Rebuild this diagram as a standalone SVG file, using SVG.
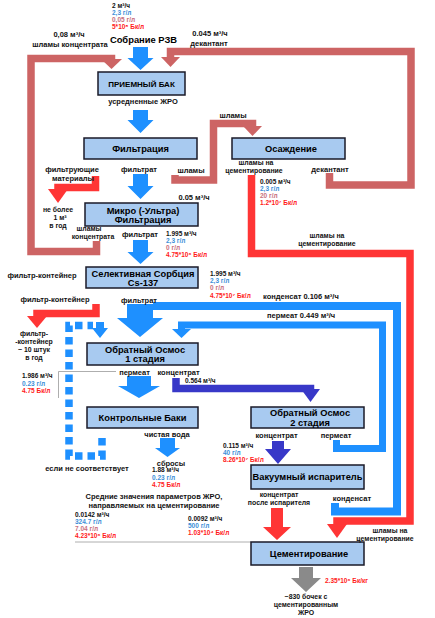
<svg xmlns="http://www.w3.org/2000/svg" width="435" height="618" viewBox="0 0 435 618">
<style>
text{font-family:"Liberation Sans",Arial,sans-serif;font-weight:bold}
.t{font-size:9.3px;text-anchor:middle;fill:#000}
.l{font-size:7.5px;text-anchor:middle;fill:#111}
.s{font-size:6.9px}
.n{font-size:6.5px}
.k{fill:#111}.b{fill:#3d8fd8}.m{fill:#c8707e}.r{fill:#ff1a1a}
.box{fill:#a8caf0;stroke:#1a1a28;stroke-width:1.5}
.lm{fill:none;stroke:#cd6464;stroke-width:7.5}
.lr{fill:none;stroke:#ff3535;stroke-width:7.5}
.lb{fill:none;stroke:#1e90ff;stroke-width:7.5}
.ld{fill:none;stroke:#3838c8;stroke-width:7.5}
.fm{fill:#cd6464}.fr{fill:#ff3535}.fb{fill:#1e90ff}.fd{fill:#3838c8}.fg{fill:#8a8a8a}
.thin{fill:none;stroke:#999;stroke-width:0.8}
</style>
<g id="connectors">
<path class="lm" d="M96.5 241 V251.5 H31 V58.5 H111.5 V60"/>
<polygon class="fm" points="101,59 122,59 111.5,69"/>
<path class="lm" d="M329.5 173 V185 H411 V51.5 H170.5 V58"/>
<polygon class="fm" points="161,57 180,57 170.5,67"/>
<path class="lm" d="M175 175 V180 H213.5 V123.5 H252.5 V127"/>
<polygon class="fm" points="243,126 262,126 252.5,136"/>
<path class="lr" d="M95.5 176 V187.5 H58 V190"/>
<polygon class="fr" points="48,189 68,189 58,203"/>
<path class="lr" d="M96 304 V313.5 H37 V317"/>
<polygon class="fr" points="27,316 47,316 37,328"/>
<path class="lr" d="M251.5 175 V253.5 H410 V521 H337 V525"/>
<polygon class="fr" points="327,524 347,524 337,538"/>
<polygon class="fr" points="271,508 283,508 283,527 291,527 277,540 263,527 271,527"/>
<polygon class="fb" points="133,47 148,47 148,58 153.5,58 140.5,70 127.5,58 133,58"/>
<polygon class="fb" points="133,110 148,110 148,120 153.5,120 140.5,133 127.5,120 133,120"/>
<polygon class="fb" points="133,174 148,174 148,186 153.5,186 140.5,199 127.5,186 133,186"/>
<polygon class="fb" points="133,240 148,240 148,252 153.5,252 140.5,264 127.5,252 133,252"/>
<path class="lb" d="M335 503 V511.5 H397 V306 H153" style="stroke-width:8"/>
<polygon class="fb" points="127,304 153,304 153,318 163,318 140,337 117,318 127,318"/>
<path class="lb" d="M336.5 440 V448.5 H382.5 V325 H181.5 V330" style="stroke-width:7"/>
<polygon class="fb" points="172,329 191,329 181.5,338"/>
<path class="lb" d="M102 438 V456 H69 V325.5 H93" style="stroke-dasharray:7.5 5"/>
<polygon class="fb" points="96,322 104,322 104,328 108,328 100,338 92,328 96,328"/>
<polygon class="fb" points="127,376 151,376 151,386 160,386 139,398 118,386 127,386"/>
<polygon class="fb" points="160,438 175,438 175,448 180,448 167.5,457 155,448 160,448"/>
<path class="ld" d="M176 378 V388.5 H310.5 V390"/>
<polygon class="fd" points="301,389 320,389 310.5,402"/>
<polygon class="fd" points="272,441 284,441 284,449 291,449 278,464 265,449 272,449"/>
<polygon class="fg" points="299,567 313,567 313,578 321,578 306,592 291,578 299,578"/>
<path class="thin" d="M116 371.5 H58.5 V398"/>
<path class="thin" d="M75 542 H251"/>
</g>
<g id="priemny"><rect class="box" x="98" y="72" width="87" height="23"/><text class="t" x="141.5" y="86.5" style="font-size:8px">ПРИЕМНЫЙ БАК</text></g>
<g id="filtracia"><rect class="box" x="84" y="138" width="113" height="21"/><text class="t" x="140.5" y="152">Фильтрация</text></g>
<g id="osazhdenie"><rect class="box" x="232" y="138" width="113" height="21"/><text class="t" x="291" y="152">Осаждение</text></g>
<g id="mikro"><rect class="box" x="85" y="203" width="113" height="23"/><text class="t" x="143" y="214.3">Микро (-Ультра)</text><text class="t" x="143" y="223.3">Фильтрация</text></g>
<g id="selective"><rect class="box" x="86" y="267" width="112" height="21"/><text class="t" x="143" y="277">Селективная Сорбция</text><text class="t" x="143" y="286">Cs-137</text></g>
<g id="ro1"><rect class="box" x="87" y="343" width="111" height="22"/><text class="t" x="145" y="353.3">Обратный Осмос</text><text class="t" x="145" y="362.3">1 стадия</text></g>
<g id="kb"><rect class="box" x="87" y="407" width="111" height="21"/><text class="t" x="142.5" y="420.8">Контрольные Баки</text></g>
<g id="ro2"><rect class="box" x="251" y="407" width="113" height="21"/><text class="t" x="310" y="416.3">Обратный Осмос</text><text class="t" x="310" y="426.3">2 стадия</text></g>
<g id="vakuum"><rect class="box" x="251" y="465" width="113" height="24"/><text class="t" x="307.5" y="480.3">Вакуумный испаритель</text></g>
<g id="cement"><rect class="box" x="251" y="542" width="113" height="23"/><text class="t" x="309" y="556.8">Цементирование</text></g>
<g id="labels">
<text class="n k" x="112" y="7.5">2 м³/ч</text>
<text class="n b" x="112" y="14.5">2,3 г/л</text>
<text class="n m" x="112" y="21.5">0,05 г/л</text>
<text class="n r" x="112" y="29">5*10⁸ Бк/л</text>
<text class="t" x="143.5" y="42.5" style="font-size:9.4px">Собрание РЗВ</text>
<text class="l" x="69" y="37">0,08 м³/ч</text>
<text class="l" x="70" y="46.5">шламы концентрата</text>
<text class="l" x="210" y="35.5">0.045 м³/ч</text>
<text class="l" x="209" y="45.5">декантант</text>
<text class="l" x="143" y="103.5">усредненные ЖРО</text>
<text class="l" x="233" y="117.5">шламы</text>
<text class="l" x="72" y="172">фильтрующие</text>
<text class="l" x="73" y="180.5">материалы</text>
<text class="l" x="139" y="171.5">фильтрат</text>
<text class="l" x="191" y="172.5">шламы</text>
<text class="l s" x="256" y="164.5">шламы на</text>
<text class="l s" x="254" y="172.5">цементирование</text>
<text class="l" x="330" y="171.5">декантант</text>
<text class="n k" x="260" y="184">0.005 м³/ч</text>
<text class="n b" x="260" y="191">2,3 г/л</text>
<text class="n m" x="260" y="198">20 г/л</text>
<text class="n r" x="260" y="205">1.2*10⁷ Бк/л</text>
<text class="l" x="194" y="199.5">0.05 м³/ч</text>
<text class="l s" x="58" y="211.5">не более</text>
<text class="l s" x="60" y="219.5">1 м³</text>
<text class="l s" x="58" y="227.5">в год</text>
<text class="l s" x="89" y="231">шламы</text>
<text class="l s" x="93" y="239">концентрата</text>
<text class="l" x="140" y="237">фильтрат</text>
<text class="n k" x="166" y="235.5">1.995 м³/ч</text>
<text class="n b" x="166" y="242.5">2,3 г/л</text>
<text class="n m" x="166" y="249.5">0 г/л</text>
<text class="n r" x="166" y="256.5">4.75*10⁶ Бк/л</text>
<text class="l s" x="327" y="238">шламы на</text>
<text class="l s" x="327" y="246">цементирование</text>
<text class="l" x="42" y="277.5">фильтр-контейнер</text>
<text class="n k" x="210" y="275.5">1.995 м³/ч</text>
<text class="n b" x="210" y="283">2,3 г/л</text>
<text class="n m" x="210" y="290">0 г/л</text>
<text class="n r" x="210" y="297.5">4.75*10⁷ Бк/л</text>
<text class="l" x="263" y="299" style="text-anchor:start">конденсат 0.106 м³/ч</text>
<text class="l" x="55" y="302">фильтр-контейнер</text>
<text class="l" x="139" y="303">фильтрат</text>
<text class="l" x="267" y="317.5" style="text-anchor:start">пермеат 0.449 м³/ч</text>
<text class="l s" x="34" y="336">фильтр-</text>
<text class="l s" x="34" y="344">-контейнер</text>
<text class="l s" x="34" y="352">~ 10 штук</text>
<text class="l s" x="34" y="360">в год</text>
<text class="l" x="134.5" y="374.5">пермеат</text>
<text class="l" x="178.5" y="374.5">концентрат</text>
<text class="n k" x="185" y="382.5">0.564 м³/ч</text>
<text class="n k" x="22" y="378">1.986 м³/ч</text>
<text class="n b" x="22" y="385.5">0.23 г/л</text>
<text class="n r" x="22" y="393">4.75 Бк/л</text>
<text class="l" x="167" y="436.5">чистая вода</text>
<text class="l" x="276.5" y="437.5">концентрат</text>
<text class="l" x="336" y="437.5">пермеат</text>
<text class="n k" x="223" y="447.5">0.115 м³/ч</text>
<text class="n b" x="223" y="454.5">40 г/л</text>
<text class="n r" x="223" y="461.5">8.26*10⁷ Бк/л</text>
<text class="l" x="171" y="465.5">сбросы</text>
<text class="l" x="87" y="470.5">если не соответствует</text>
<text class="n k" x="152" y="472">1.88 м³/ч</text>
<text class="n b" x="152" y="479.5">0.23 г/л</text>
<text class="n r" x="152" y="486.5">4.75 Бк/л</text>
<text class="l s" x="279" y="496.5">концентрат</text>
<text class="l s" x="279" y="504.5">после испарителя</text>
<text class="l" x="352" y="500.5">конденсат</text>
<text class="l" x="154" y="499">Средние значения параметров ЖРО,</text>
<text class="l" x="154" y="507.5">направляемых на цементирование</text>
<text class="n k" x="75" y="516.5">0.0142 м³/ч</text>
<text class="n b" x="75" y="523.5">324.7 г/л</text>
<text class="n m" x="75" y="530.5">7.04 г/л</text>
<text class="n r" x="75" y="538">4.23*10⁶ Бк/л</text>
<text class="n k" x="188" y="520.5">0.0092 м³/ч</text>
<text class="n b" x="188" y="527.5">500 г/л</text>
<text class="n r" x="188" y="534.5">1.03*10⁴ Бк/л</text>
<text class="l s" x="390" y="533">шламы на</text>
<text class="l s" x="385" y="541">цементирование</text>
<text class="n r" x="325" y="582.5">2.35*10⁶ Бк/кг</text>
<text class="l s" x="306" y="599">~830 бочек с</text>
<text class="l s" x="306" y="607">цементированным</text>
<text class="l s" x="306" y="615">ЖРО</text>
</g>
</svg>
